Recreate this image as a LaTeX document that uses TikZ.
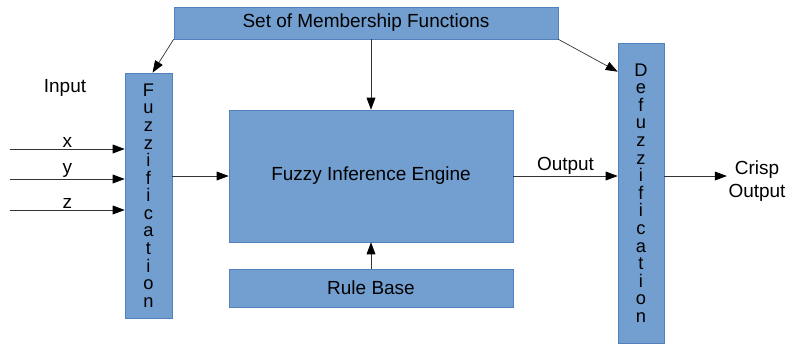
\documentclass[tikz,border=0pt]{standalone}
\usepackage{fontspec}
\setmainfont{Liberation Sans}
\usetikzlibrary{arrows.meta}
\definecolor{boxblue}{RGB}{114,159,207}
\definecolor{boxline}{RGB}{82,130,190}

\begin{document}
\begin{tikzpicture}[x=0.025cm,y=-0.025cm,
    box/.style={draw=boxline,fill=boxblue,line width=0.4pt,inner sep=0pt,
        font=\fontsize{13.5}{16}\selectfont},
    vbox/.style={box,align=center,font=\fontsize{13}{12.5}\selectfont},
    lbl/.style={font=\fontsize{13.5}{16}\selectfont,inner sep=1pt},
    arr/.style={draw=black!80,line width=0.5pt,-{Triangle[length=0.3cm,width=0.22cm,color=black]}}]
\useasboundingbox (0,0) rectangle (788,345);
    \node[box,minimum width=9.6cm,minimum height=0.8cm] (msf) at (366,23) {Set of Membership Functions};
    \node[vbox,minimum width=1.175cm,minimum height=6.125cm] (fuzz) at (148.5,195.5)
        {F\\u\\z\\z\\i\\f\\i\\c\\a\\t\\i\\o\\n};
    \node[box,minimum width=7.1cm,minimum height=3.3cm] (eng) at (371,176) {Fuzzy Inference Engine};
    \node[box,minimum width=7.1cm,minimum height=0.95cm] (rule) at (371,288) {Rule Base};
    \node[vbox,minimum width=1.15cm,minimum height=7.5cm] (defz) at (641,193)
        {D\\e\\f\\u\\z\\z\\i\\f\\i\\c\\a\\t\\i\\o\\n};
    \node[lbl] (input) at (65,88) {Input};
    \node[lbl,align=center] (crisp) at (757,181) {Crisp\\Output};
    % inputs
    \coordinate (inx) at (10,149);
    \coordinate (iny) at (10,179);
    \coordinate (inz) at (10,210);
    \draw[arr] (inx) -- node[lbl,above] {x} (fuzz.west |- inx);
    \draw[arr] (iny) -- node[lbl,above] {y} (fuzz.west |- iny);
    \draw[arr] (inz) -- node[lbl,above] {z} (fuzz.west |- inz);
    % flow
    \draw[arr] (fuzz.east |- eng.west) -- (eng.west);
    \draw[arr] (eng.east) -- node[lbl,above] {Output} (defz.west |- eng.east);
    \draw[arr] (defz.east |- eng.east) -- (crisp.west |- eng.east);
    \draw[arr] (rule.north) -- (eng.south);
    % membership functions
    \draw[arr] (msf.south west) -- ([xshift=0.1cm]fuzz.north);
    \draw[arr] (msf.south -| eng.north) -- (eng.north);
    \draw[arr] (msf.south east) -- ([yshift=-0.725cm]defz.north west);
\end{tikzpicture}
\end{document}
